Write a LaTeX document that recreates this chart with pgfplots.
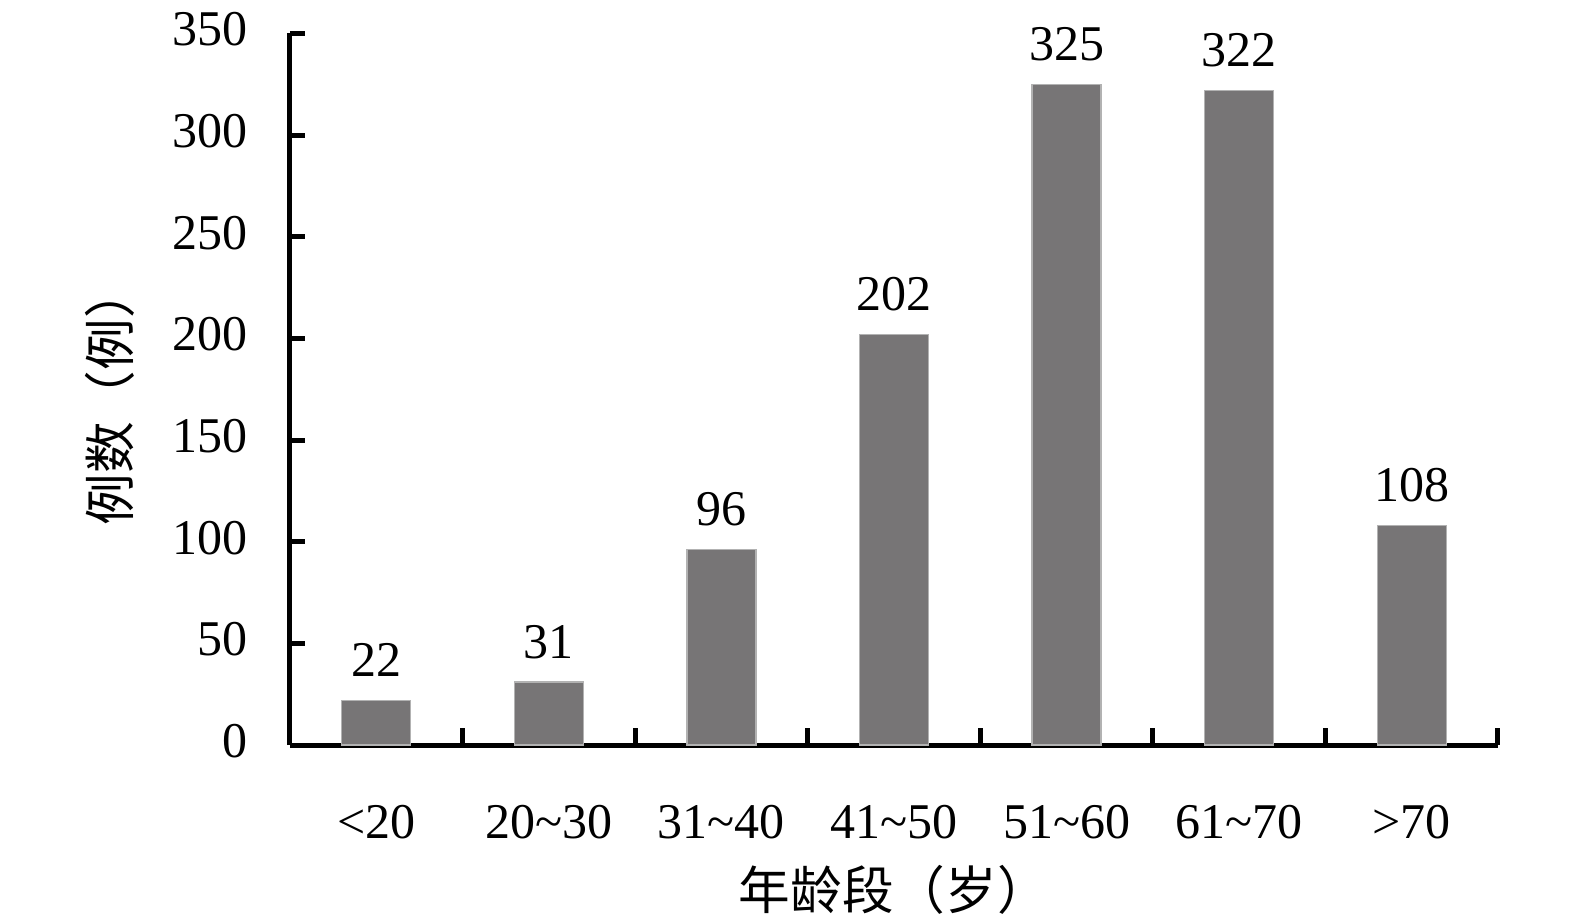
\documentclass[border=0pt]{standalone}
\usepackage{fontspec}
\setmainfont{Liberation Serif}
\newfontfamily\cjk{Noto Sans CJK SC}
\usepackage{pgfplots}
\pgfplotsset{compat=1.18}
\definecolor{barc}{RGB}{119,117,118}
\begin{document}
\begin{tikzpicture}
\useasboundingbox (-87pt,-53.5pt) rectangle (385.5pt,223.5pt);
\begin{axis}[
  at={(0pt,0pt)}, anchor=south west,
  scale only axis,
  width=362.4pt, height=213.5pt,
  xmin=-0.5, xmax=6.5, ymin=0, ymax=350,
  axis x line*=bottom, axis y line*=left,
  axis line style={line width=1.5pt,-},
  tick style={line width=1.5pt, black},
  ytick={0,50,...,350},
  major tick length=4.5pt,
  ytick align=inside,
  xtick={0,...,6},
  xticklabels={<20,20\char"007E 30,31\char"007E 40,41\char"007E 50,51\char"007E 60,61\char"007E 70,>70},
  x tick style={draw=none},
  /pgf/number format/assume math mode=true,
  tick label style={font=\fontsize{15}{18}\selectfont},
  yticklabel style={anchor=east, inner sep=0pt, xshift=-12.5pt, yshift=1.2pt},
  xticklabel style={anchor=base, inner sep=0pt, yshift=-23.5pt},
  xlabel={\cjk 年龄段（岁）},
  ylabel={\cjk 例数（例）},
  label style={font=\fontsize{15.5}{18}\selectfont},
  xlabel style={at={(axis description cs:0.5,-0.203)}, anchor=center},
  ylabel style={at={(axis description cs:-0.1495,0.49)}, anchor=center, rotate=0},
  ybar,
  bar width=20.7pt,
  nodes near coords,
  every node near coord/.append style={font=\fontsize{15}{18}\selectfont, black, yshift=3.5pt},
  clip=false,
]
\addplot[fill=barc, draw=black!30, line width=0.4pt] coordinates {
(0,22) (1,31) (2,96) (3,202) (4,325) (5,322) (6,108)};
\pgfplotsinvokeforeach{0.5,1.5,2.5,3.5,4.5,5.5,6.5}{
  \draw[line width=1.5pt, black] (axis cs:#1,0) -- ++(0pt,5pt);
}
\end{axis}
\end{tikzpicture}
\end{document}
